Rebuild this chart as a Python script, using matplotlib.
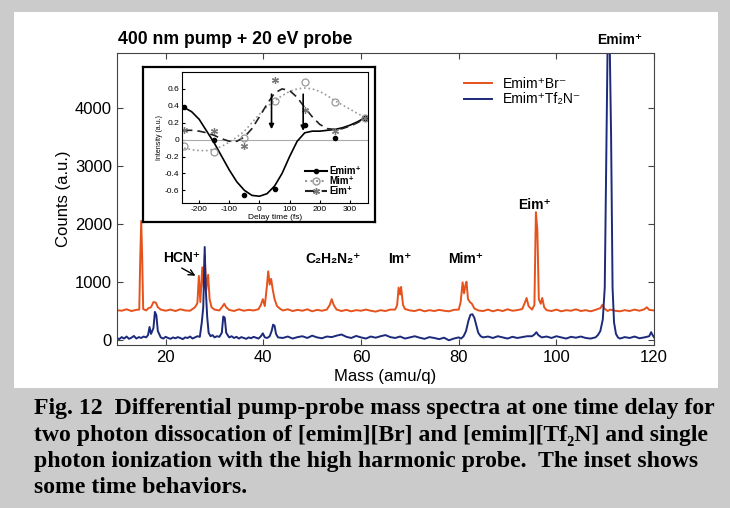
import matplotlib
matplotlib.use("Agg")
import matplotlib.pyplot as plt
from matplotlib.patches import Rectangle
from matplotlib.lines import Line2D

SANS = ['Liberation Sans', 'DejaVu Sans']
SERIF = ['Liberation Serif', 'DejaVu Serif']
plt.rcParams['font.family'] = SANS

# ---- main spectra ----
mass_br = [10, 11, 12, 13, 14, 14.6, 14.8, 15.0, 15.2, 15.4, 16, 16.5, 17, 17.5, 18, 18.4, 19, 20, 21, 22,
           23, 24, 25, 26, 26.5, 26.8, 27.1, 27.5, 27.8, 28.0, 28.3, 28.7, 29.0, 29.4, 30, 31, 31.6, 32.0,
           32.4, 33, 34, 35, 36, 37, 38, 39, 39.5, 39.9, 40.3, 40.7, 41.0, 41.3, 41.6, 41.9, 42.3, 42.8,
           43.5, 44, 45, 46, 47, 48, 49, 50, 51, 52, 53, 53.6, 54.0, 54.4, 55, 56, 57, 58, 59, 60, 61, 62,
           63, 64, 65, 66, 67, 67.4, 67.7, 68.0, 68.2, 68.6, 69, 70, 71, 72, 73, 74, 75, 76, 77, 78, 79,
           80, 80.4, 80.8, 81.1, 81.4, 81.6, 81.9, 82.3, 82.7, 83.2, 84, 85, 86, 87, 88, 89, 90, 91, 92,
           93, 93.6, 93.9, 94.3, 95, 95.5, 95.8, 96.1, 96.4, 96.8, 97.1, 97.5, 98, 99, 100, 101, 102, 103,
           104, 105, 106, 107, 108, 109, 109.4, 109.8, 110.5, 111, 112, 113, 114, 115, 116, 117, 118,
           118.5, 119, 120]
counts_br = [510, 500, 525, 495, 515, 520, 1400, 2050, 1400, 530, 505, 545, 560, 650, 640, 560, 520, 500, 520, 495,
             525, 505, 500, 560, 630, 1100, 650, 1250, 900, 1450, 850, 1120, 700, 560, 520, 505, 570, 620,
             560, 515, 495, 525, 500, 515, 505, 525, 600, 700, 580, 900, 1180, 950, 1050, 880, 700, 580,
             530, 505, 525, 495, 515, 500, 525, 490, 515, 500, 520, 600, 700, 600, 520, 495, 515, 490, 510, 500, 520, 500,
             485, 510, 495, 520, 520, 600, 900, 780, 910, 600, 530, 505, 495, 520, 490, 510, 495, 515, 500, 490, 515,
             520, 650, 990, 800, 950, 1000, 700, 650, 620, 540, 505, 495, 520, 490, 515, 495, 525, 500, 510,
             530, 650, 720, 580, 520, 600, 2200, 1900, 700, 620, 720, 560, 510, 495, 520, 490, 510, 500,
             525, 495, 510, 490, 515, 545, 600, 540, 495, 520, 500, 490, 510, 495, 520, 500, 525,
             560, 515, 505]

# (mass, counts) pairs for the Tf2N spectrum
tf_points = [
    (10, 30), (10.5, 10), (11, 45), (11.5, 20), (12, 55), (12.5, 15), (13, 35), (13.5, 65), (14, 20),
    (14.5, 45), (15, 30), (15.5, 55), (16, 40), (16.4, 80), (16.7, 220), (17.0, 100), (17.5, 200),
    (17.8, 480), (18.1, 420), (18.4, 150), (19, 40), (19.5, 20), (20, 50), (20.5, 30), (21, 15),
    (21.5, 40), (22, 25), (22.5, 45), (23, 30), (23.5, 10), (24, 40), (24.5, 30), (25, 55), (25.5, 20),
    (26, 40), (26.5, 60), (27, 50), (27.4, 300), (27.7, 560), (28.0, 1600), (28.2, 900), (28.5, 400),
    (28.8, 120), (29.2, 60), (29.6, 80), (30, 40), (30.5, 60), (31, 50), (31.5, 120), (31.8, 400),
    (32.1, 380), (32.4, 120), (33, 40), (33.5, 60), (34, 30), (34.5, 50), (35, 20), (35.5, 45), (36, 30),
    (36.5, 15), (37, 40), (37.5, 25), (38, 50), (38.5, 35), (39, 20), (39.5, 60), (39.9, 110), (40.3, 40),
    (40.8, 30), (41.3, 60), (41.7, 150), (42.0, 260), (42.3, 240), (42.6, 100), (43, 40), (44, 30),
    (45, 55), (46, 20), (47, 45), (48, 60), (49, 30), (50, 70), (51, 40), (52, 25), (53, 55), (54, 45),
    (55, 70), (56, 90), (57, 50), (58, 30), (59, 65), (60, 40), (61, 20), (62, 55), (63, 35), (64, 60),
    (65, 80), (66, 45), (67, 30), (68, 55), (69, 20), (70, 40), (71, 60), (72, 35), (73, 15), (74, 45),
    (75, 30), (76, 10), (77, 35), (78, -10), (79, 20), (80, 40), (80.5, 20), (81, 60), (81.5, 150),
    (82, 330), (82.4, 430), (82.8, 440), (83.2, 380), (83.6, 250), (84, 120), (84.5, 60), (85, 40),
    (86, 55), (87, 30), (88, 60), (89, 40), (90, 20), (91, 50), (92, 30), (93, 45), (94, 60), (95, 60),
    (95.5, 90), (95.9, 130), (96.3, 80), (97, 40), (98, 55), (99, 30), (100, 60), (101, 40), (102, 20),
    (103, 50), (104, 35), (105, 55), (106, 30), (107, 20), (108, 40), (108.5, 80), (109, 150),
    (109.5, 350), (109.9, 900), (110.2, 3000), (110.5, 5200), (110.9, 5200), (111.2, 3500),
    (111.5, 900), (111.8, 300), (112.2, 100), (112.6, 40), (113, 20), (114, 45), (115, 30), (116, 55),
    (117, 25), (118, 40), (119, 60), (119.4, 130), (119.7, 80), (120, 40),
]
mass_tf = [p[0] for p in tf_points]
counts_tf = [p[1] for p in tf_points]

# ---- inset: time behaviours ----
delay_pts = [-250, -150, -50, 50, 150, 250, 350]
emim_pts = [0.38, 0.0, -0.66, -0.58, 0.17, 0.02, 0.26]
mim_pts = [-0.08, -0.15, 0.02, 0.46, 0.68, 0.44, 0.26]
eim_pts = [0.11, 0.10, -0.08, 0.70, 0.35, 0.10, 0.26]

delay_fit = [-250, -225, -200, -175, -150, -125, -100, -75, -50, -25, 0, 25, 50, 75, 100, 125,
             150, 175, 200, 225, 250, 275, 300, 325, 350]
emim_fit = [0.38, 0.33, 0.24, 0.10, -0.04, -0.20, -0.36, -0.50, -0.60, -0.66, -0.67, -0.64, -0.55,
            -0.40, -0.20, -0.02, 0.08, 0.10, 0.10, 0.11, 0.12, 0.14, 0.17, 0.21, 0.26]
mim_fit = [-0.10, -0.12, -0.13, -0.13, -0.11, -0.08, -0.03, 0.03, 0.10, 0.20, 0.30, 0.39, 0.46,
           0.52, 0.57, 0.60, 0.61, 0.60, 0.57, 0.52, 0.46, 0.41, 0.36, 0.31, 0.26]
eim_fit = [0.11, 0.11, 0.10, 0.08, 0.05, 0.01, -0.02, -0.02, 0.03, 0.13, 0.27, 0.42, 0.55, 0.60,
           0.58, 0.50, 0.38, 0.27, 0.18, 0.13, 0.12, 0.13, 0.16, 0.20, 0.25]

arrow_t = [40, 145]
arrow_from = [0.57, 0.57]
arrow_to = [0.09, 0.07]

RED = '#e6521c'
BLUE = '#1b2a7a'

fig = plt.figure(figsize=(7.3, 5.08), dpi=100, facecolor='#cbcbcb')
fig.patches.append(Rectangle((0.019, 0.236), 0.965, 0.741, transform=fig.transFigure,
                             facecolor='white', edgecolor='none', zorder=0))

ax = fig.add_axes([0.160, 0.321, 0.736, 0.575])
ax.set_zorder(1)
ax.plot(mass_br, counts_br, color=RED, lw=1.4, label='Emim⁺Br⁻')
ax.plot(mass_tf, counts_tf, color=BLUE, lw=1.4, label='Emim⁺Tf₂N⁻')
ax.set_xlim(10, 120)
ax.set_ylim(-90, 4950)
ax.set_xticks([20, 40, 60, 80, 100, 120])
ax.set_yticks([0, 1000, 2000, 3000, 4000])
ax.tick_params(direction='in', top=True, right=True, labelsize=12, length=4, color='#444444')
for s in ax.spines.values():
    s.set_color('#444444')
ax.set_xlabel('Mass (amu/q)', fontsize=12, labelpad=3)
ax.set_ylabel('Counts (a.u.)', fontsize=12, labelpad=3)
ax.legend(loc='upper left', bbox_to_anchor=(0.623, 0.96), frameon=False, fontsize=10,
          handlelength=2.0, handletextpad=0.8, labelspacing=0.1)

fig.text(0.162, 0.913, '400 nm pump + 20 eV probe', fontsize=12.7, fontweight='bold')

lbl = dict(fontsize=10, fontweight='bold', ha='center', va='center')
ax.text(23.3, 1414, 'HCN⁺', **lbl)
ax.annotate('', xy=(26.6, 1080), xytext=(22.8, 1260),
            arrowprops=dict(arrowstyle='->', color='black', lw=1))
ax.text(54.2, 1396, 'C₂H₂N₂⁺', **lbl)
ax.text(67.9, 1396, 'Im⁺', **lbl)
ax.text(81.4, 1396, 'Mim⁺', **lbl)
ax.text(95.5, 2330, 'Eim⁺', **lbl)
ax.text(112.9, 5170, 'Emim⁺', clip_on=False, **lbl)

# inset frame and axes
box = fig.add_axes([0.1959, 0.563, 0.3178, 0.305])
box.set_zorder(2)
box.set_xticks([])
box.set_yticks([])
for s in box.spines.values():
    s.set_linewidth(1.6)
    s.set_color('black')

ins = fig.add_axes([0.2493, 0.6004, 0.2548, 0.2579])
ins.set_zorder(3)
ins.patch.set_alpha(0)
ins.axhline(0, color='#aaaaaa', lw=0.8)
ins.plot(delay_fit, emim_fit, color='black', lw=1.2, ls='-')
ins.plot(delay_fit, mim_fit, color='#999999', lw=1.2, ls=':')
ins.plot(delay_fit, eim_fit, color='#222222', lw=1.2, ls=(0, (5, 3)))
ins.plot(delay_pts, emim_pts, 'o', color='black', ms=3)
ins.plot(delay_pts, mim_pts, 'o', mfc='none', mec='#999999', ms=5, mew=0.9)
ins.plot(delay_pts, eim_pts, marker=(6, 2, 0), ls='none', color='#777777', ms=5, mew=0.9)
for t, y0, y1 in zip(arrow_t, arrow_from, arrow_to):
    ins.annotate('', xy=(t, y1), xytext=(t, y0),
                 arrowprops=dict(arrowstyle='-|>', color='black', lw=1.2, mutation_scale=7))
ins.set_xlim(-257, 360)
ins.set_ylim(-0.75, 0.8)
ins.set_xticks([-200, -100, 0, 100, 200, 300])
ins.set_yticks([-0.6, -0.4, -0.2, 0, 0.2, 0.4, 0.6])
ins.set_yticklabels(['-0.6', '-0.4', '-0.2', '0', '0.2', '0.4', '0.6'])
ins.set_xticklabels(['-200', '-100', '0', '100', '200', '300'])
ins.tick_params(direction='in', labelsize=6, length=2, pad=2)
for s in ins.spines.values():
    s.set_linewidth(0.8)
ins.set_xlabel('Delay time (fs)', fontsize=6, labelpad=1)
ins.set_ylabel('Intensity (a.u.)', fontsize=5, labelpad=1)
handles = [
    Line2D([], [], color='black', ls='-', marker='o', ms=3),
    Line2D([], [], color='#999999', ls=':', marker='o', mfc='none', ms=5),
    Line2D([], [], color='#222222', ls=(0, (5, 3)), marker=(6, 2, 0), mec='#777777', ms=5),
]
ins.legend(handles, ['Emim⁺', 'Mim⁺', 'Eim⁺'], loc='lower right', frameon=False,
           prop={'size': 7, 'weight': 'bold', 'family': SANS}, handlelength=2.2,
           handletextpad=0.3, labelspacing=0.0, borderaxespad=0.3)

caption = [
    'Fig. 12  Differential pump-probe mass spectra at one time delay for',
    'two photon dissocation of [emim][Br] and [emim][Tf₂N] and single',
    'photon ionization with the high harmonic probe.  The inset shows',
    'some time behaviors.',
]
cap_y = [0.185, 0.132, 0.081, 0.030]
for line, y in zip(caption, cap_y):
    fig.text(0.046, y, line, fontsize=17.1, fontweight='bold', family=SERIF, va='baseline')

fig.savefig('out.png', dpi=100, facecolor=fig.get_facecolor())
